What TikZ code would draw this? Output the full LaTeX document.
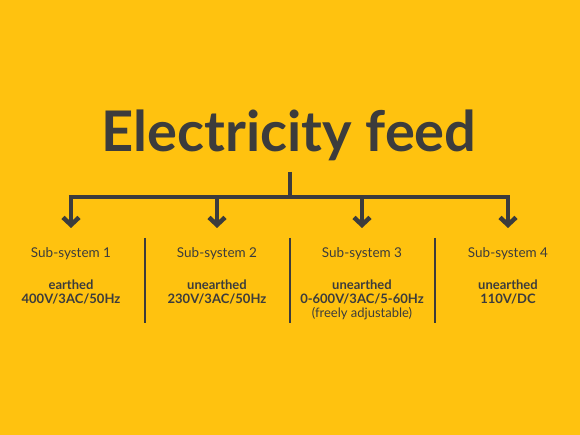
\documentclass[tikz,border=0pt]{standalone}
\usepackage{fontspec}
\setmainfont{Lato}
\usetikzlibrary{arrows.meta}

\definecolor{feedyellow}{HTML}{FFC20F}
\definecolor{feedgray}{HTML}{3C3C3C}

\tikzset{
  feedline/.style={draw=feedgray, line width=4.5pt},
  feedarrow/.style={feedline, -{Straight Barb[length=7.5pt, width=16pt]}},
  sepline/.style={draw=feedgray, line width=2.2pt},
  subtitle/.style={text=feedgray, font=\fontsize{13.5}{14}\selectfont, anchor=base},
  subtext/.style={text=feedgray, font=\bfseries\fontsize{13}{14}\selectfont, align=center, anchor=north, inner sep=0pt}
}

\begin{document}
\begin{tikzpicture}[x=1pt, y=-1pt]
\fill[feedyellow] (0,0) rectangle (580,435);
\useasboundingbox (0,0) rectangle (580,435);

\node[text=feedgray, font=\bfseries\fontsize{56}{60}\selectfont, anchor=base] (title) at (289,152) {Electricity feed};

% bus and arrows
\coordinate (top) at (290,172);
\coordinate (mid) at (290,197);
\foreach \i/\x in {1/71, 2/217, 3/362, 4/508} {
  \coordinate (b\i) at (\x,197);
  \coordinate (t\i) at (\x,228);
}
\draw[feedline] (top) -- (mid);
\draw[feedline, line cap=butt] ([xshift=-2.25pt]b1) -- ([xshift=2.25pt]b4);
\foreach \i in {1,...,4} \draw[feedarrow] (b\i) -- (t\i);

% sub-systems
\node[subtitle] (sub1) at (71,258) {Sub-system 1};
\node[subtitle] (sub2) at (217,258) {Sub-system 2};
\node[subtitle] (sub3) at (362,258) {Sub-system 3};
\node[subtitle] (sub4) at (508,258) {Sub-system 4};
\node[subtext] (info1) at (71,280) {earthed\\400V/3AC/50Hz};
\node[subtext] (info2) at (217,280) {unearthed\\230V/3AC/50Hz};
\node[subtext] (info3) at (362,280) {unearthed\\0-600V/3AC/5-60Hz\\{\normalfont(freely adjustable)}};
\node[subtext] (info4) at (508,280) {unearthed\\110V/DC};

% separators
\foreach \x [count=\j] in {145, 290, 435} {
  \coordinate (s\j) at (\x,238);
  \coordinate (e\j) at (\x,323);
  \draw[sepline] (s\j) -- (e\j);
}
\end{tikzpicture}
\end{document}
